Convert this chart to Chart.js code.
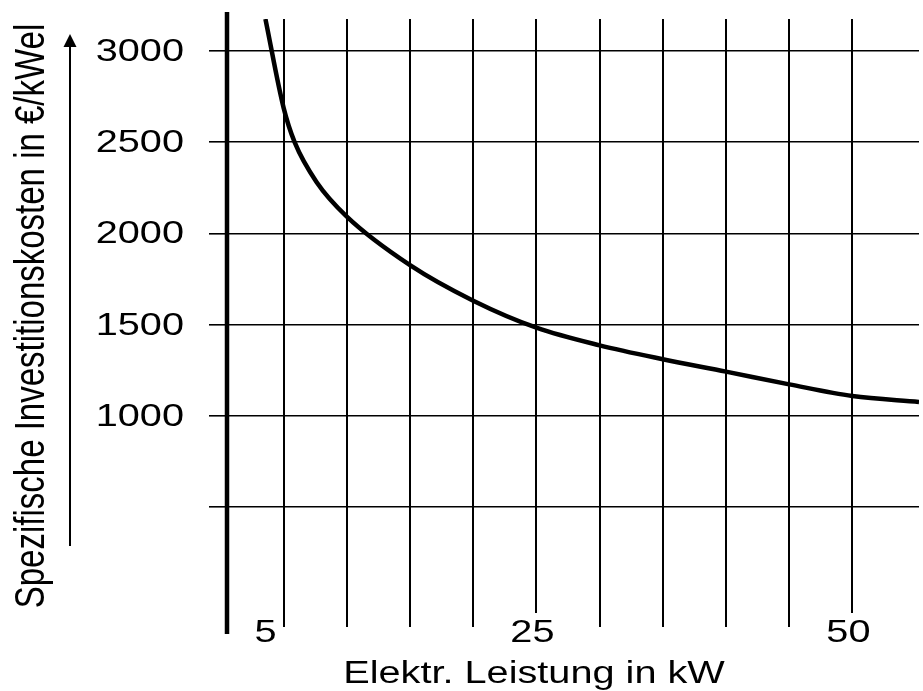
<!DOCTYPE html>
<html>
<head>
<meta charset="utf-8">
<title>Spezifische Investitionskosten</title>
<script src="https://cdn.jsdelivr.net/npm/chart.js@4.4.1/dist/chart.umd.min.js"></script>
<style>
  html, body { margin:0; padding:0; background:#fff; }
  #wrap { width:923px; height:691px; position:relative; }
</style>
</head>
<body>
<div id="wrap"><canvas id="chart"></canvas></div>
<script>
// data (against the nearest grid lines)
const powerKW = [3.56, 5, 5.87, 7.6, 10, 15, 20, 25, 30, 35, 40, 45, 50, 55.27];
const costEurPerKW = [3175, 2688, 2500, 2282, 2092, 1826, 1631, 1483, 1386, 1310, 1242, 1172, 1108, 1076];

const xGridValues = [5, 10, 15, 20, 25, 30, 35, 40, 45, 50];
const xTickLabels = [5, 25, 50];
const yGridValues = [500, 1000, 1500, 2000, 2500, 3000];
const yTickLabels = [1000, 1500, 2000, 2500, 3000];

const xTitle = 'Elektr. Leistung in kW';
const yTitle = 'Spezifische Investitionskosten in €/kWel';

const FONT = '"Liberation Sans", Arial, Helvetica, sans-serif';
const STRETCH = 1.28; // the scan is wider than tall

// stretched text helper
function wideText(ctx, txt, x, y, size, align){
  ctx.save();
  ctx.translate(x, y);
  ctx.scale(STRETCH, 1);
  ctx.font = size + 'px ' + FONT;
  ctx.textAlign = align;
  ctx.textBaseline = 'alphabetic';
  ctx.fillStyle = '#000';
  ctx.fillText(txt, 0, 0);
  ctx.restore();
}

const decorations = {
  id: 'decorations',
  afterDraw(chart){
    const ctx = chart.ctx;
    const area = chart.chartArea;
    const xs = chart.scales.x;
    const ys = chart.scales.y;

    // thick vertical axis
    const ax = xs.getPixelForValue(xs.min);
    ctx.save();
    ctx.strokeStyle = '#000';
    ctx.lineWidth = 4.5;
    ctx.beginPath();
    ctx.moveTo(ax, area.top - 7);
    ctx.lineTo(ax, area.bottom + 7);
    ctx.stroke();
    ctx.restore();

    // y tick labels
    yTickLabels.forEach(v=>{
      const py = ys.getPixelForValue(v);
      wideText(ctx, String(v), 184, py + 10, 31, 'right');
    });

    // x tick labels (the 25 and 50 lines stop above the numbers)
    xTickLabels.forEach(v=>{
      const px = xs.getPixelForValue(v);
      if(v === 5){
        wideText(ctx, String(v), px - 7, 642, 31, 'right');
      } else {
        ctx.fillStyle = '#fff';
        ctx.fillRect(px - 28, area.bottom - 14, 56, 30);
        wideText(ctx, String(v), px - 4, 642, 31, 'center');
      }
    });

    // x title
    wideText(ctx, xTitle, 534, 683, 31, 'center');

    // y title, rotated
    ctx.save();
    ctx.translate(44, 316);
    ctx.rotate(-Math.PI/2);
    ctx.scale(1, STRETCH);
    ctx.font = '33px ' + FONT;
    ctx.textAlign = 'center';
    ctx.textBaseline = 'alphabetic';
    ctx.fillStyle = '#000';
    ctx.fillText(yTitle, 0, 0);
    ctx.restore();

    // arrow next to the y title
    ctx.save();
    ctx.strokeStyle = '#000';
    ctx.fillStyle = '#000';
    ctx.lineWidth = 2;
    ctx.beginPath();
    ctx.moveTo(70, 546);
    ctx.lineTo(70, 44);
    ctx.stroke();
    ctx.beginPath();
    ctx.moveTo(70, 34);
    ctx.lineTo(63.5, 47);
    ctx.lineTo(76.5, 47);
    ctx.closePath();
    ctx.fill();
    ctx.restore();
  }
};

const ctx = document.getElementById('chart').getContext('2d');
new Chart(ctx, {
  type: 'line',
  data: {
    datasets: [{
      data: powerKW.map((x,i)=>({ x, y: costEurPerKW[i] })),
      borderColor: '#000',
      borderWidth: 4.5,
      pointRadius: 0,
      fill: false,
      cubicInterpolationMode: 'monotone'
    }]
  },
  options: {
    responsive: true,
    maintainAspectRatio: false,
    animation: false,
    layout: { padding: { left: 209, top: 19, right: 4, bottom: 64 } },
    plugins: { legend: { display:false }, tooltip: { enabled:false } },
    scales: {
      x: {
        type: 'linear',
        min: 0.52,
        max: 55.27,
        afterBuildTicks: s => { s.ticks = xGridValues.map(v=>({ value:v })); },
        ticks: { display:false },
        border: { display:false },
        grid: { color:'#000', lineWidth:2, drawTicks:false }
      },
      y: {
        type: 'linear',
        min: -158,
        max: 3175,
        afterBuildTicks: s => { s.ticks = yGridValues.map(v=>({ value:v })); },
        ticks: { display:false },
        border: { display:false },
        grid: { color:'#000', lineWidth:1.6, drawTicks:true, tickLength:18 }
      }
    }
  },
  plugins: [decorations]
});
</script>
</body>
</html>
